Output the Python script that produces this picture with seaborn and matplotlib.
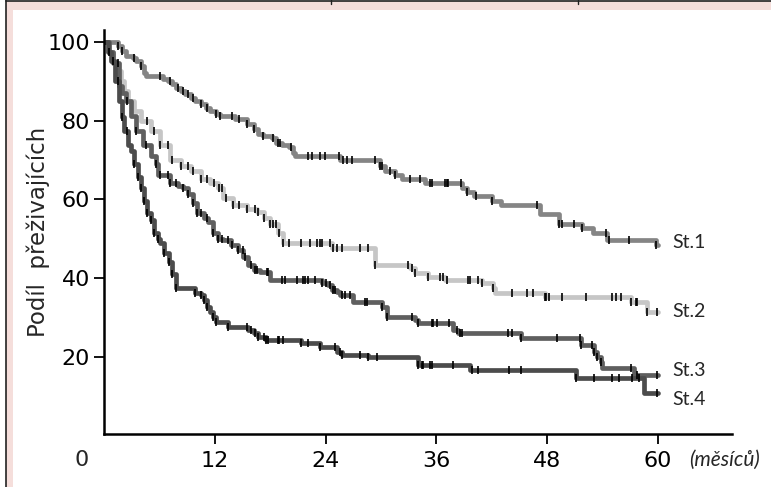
import numpy as np
import pandas as pd
import matplotlib
matplotlib.use("Agg")
import matplotlib.pyplot as plt
from matplotlib.patches import Rectangle
from matplotlib.lines import Line2D
import seaborn as sns

# ---------------- data ----------------
stages = ["St.1", "St.2", "St.3", "St.4"]

t1 = [0, 1.5, 2.0, 2.4, 3.1, 3.5, 4.0, 4.3, 4.5, 6.4, 6.9, 7.4, 7.8, 8.3, 8.8, 9.4, 9.9,
      10.5, 11.0, 11.5, 12.1, 12.6, 14.2, 15.5, 16.2, 16.7, 17.2, 18.2, 18.6, 19.3, 20.0,
      20.5, 20.7, 25.6, 29.9, 30.4, 31.5, 32.3, 34.8, 38.8, 39.3, 40.1, 42.0, 43.0, 47.2,
      49.3, 51.8, 52.9, 54.5, 59.8, 60.0]
s1 = [100, 99.0, 97.7, 96.5, 96.0, 95.2, 93.9, 92.2, 91.4, 90.6, 90.1, 89.4, 88.4, 87.6, 86.8,
      85.8, 85.1, 84.1, 83.3, 82.5, 81.8, 81.3, 80.5, 79.2, 78.0, 76.7, 76.2, 75.7, 74.4,
      73.7, 73.2, 71.9, 71.1, 69.9, 68.6, 67.3, 66.1, 65.3, 64.3, 63.0, 62.0, 61.0, 59.7,
      58.5, 56.3, 53.7, 52.7, 51.4, 49.6, 48.4, 48.4]

t2 = [0, 0.5, 1.0, 1.4, 1.8, 2.2, 2.6, 3.2, 4.0, 5.1, 6.1, 7.2, 8.3, 9.4, 10.5, 11.5, 12.3,
      12.9, 14.0, 15.5, 16.6, 17.3, 18.0, 18.8, 19.4, 24.7, 29.3, 33.1, 33.7, 35.1, 36.9,
      40.9, 42.1, 42.3, 47.7, 57.1, 58.8, 60.0]
s2 = [100, 97.5, 95, 92.5, 90, 87.5, 85, 82.5, 80, 77.5, 73.7, 69.9, 68.6, 67.3, 65.3, 64.3,
      62.8, 60.3, 58.5, 57.7, 56.7, 55.2, 53.9, 51.4, 48.9, 47.6, 43.3, 42.5, 41.3, 40.3,
      39.5, 38.7, 37.5, 36.2, 35.2, 33.9, 31.4, 31.4]

t3 = [0, 0.5, 1.0, 1.6, 2.0, 2.4, 2.9, 3.5, 4.2, 5.1, 5.6, 5.9, 7.2, 8.0, 8.5, 9.1, 9.6,
      10.1, 10.8, 11.3, 11.8, 12.3, 12.9, 13.7, 14.5, 15.1, 15.6, 16.2, 16.9, 18.0, 23.6,
      24.3, 24.7, 25.2, 25.6, 27.0, 30.1, 30.6, 33.7, 34.0, 37.8, 38.3, 45.2, 51.7, 53.1,
      53.4, 53.8, 53.9, 57.4, 60.0]
s3 = [100, 97.5, 94.7, 88.9, 87.0, 85.0, 81.3, 77.5, 73.7, 71.1, 69.1, 66.1, 64.3, 63.5, 63.0,
      61.5, 59.0, 56.5, 55.4, 54.2, 51.6, 50.1, 49.6, 48.4, 47.1, 45.3, 43.3, 42.0, 41.5,
      39.5, 38.7, 38.2, 37.0, 36.5, 35.7, 33.9, 32.7, 30.1, 29.4, 28.6, 26.8, 26.1, 24.8,
      23.0, 21.3, 20.0, 18.7, 17.2, 15.4, 15.4]

t4 = [0, 0.4, 0.8, 1.2, 1.6, 1.9, 2.2, 2.6, 2.9, 3.2, 3.7, 4.0, 4.3, 4.7, 5.1, 5.4, 5.9, 6.1,
      6.5, 7.0, 7.4, 7.8, 9.9, 10.5, 10.8, 11.2, 11.5, 11.8, 12.1, 13.4, 15.6, 16.2, 16.7,
      17.5, 21.3, 23.4, 25.2, 25.8, 28.6, 34.0, 39.6, 51.1, 58.5, 60.0]
s4 = [100, 97.5, 95.2, 90.0, 85.0, 81.0, 77.5, 73.7, 72.4, 69.1, 65.6, 63.0, 59.7, 56.5, 54.7,
      51.4, 50.1, 48.9, 46.3, 44.1, 41.0, 37.5, 36.2, 35.7, 34.4, 32.7, 31.4, 30.1, 28.9,
      27.6, 26.8, 26.1, 25.1, 24.3, 23.5, 22.5, 21.3, 20.5, 20.0, 18.0, 16.7, 14.7, 10.9,
      10.9]

# censoring marks (months)
c1 = [1.5, 2.0, 3.2, 4.0, 6.1, 7.2, 8.0, 8.5, 9.1, 9.6, 10.5, 11.2, 12.1, 12.6, 13.9, 14.6,
      15.5, 16.2, 17.2, 18.3, 18.8, 19.1, 20.2, 22.1, 22.5, 23.4, 23.9, 25.4, 25.9, 26.3,
      26.9, 29.3, 29.9, 30.1, 31.0, 31.5, 33.1, 34.2, 35.3, 35.5, 36.9, 37.1, 37.2, 38.7,
      39.3, 40.3, 42.0, 46.9, 49.3, 49.6, 50.9, 51.8, 54.4, 54.7, 56.9, 59.8]
c2 = [4.7, 5.4, 6.1, 6.9, 7.4, 8.3, 9.1, 9.6, 10.5, 11.2, 11.9, 12.4, 12.8, 13.2, 14.0, 14.6,
      15.5, 16.4, 16.7, 17.3, 18.0, 18.3, 18.6, 18.9, 19.4, 20.0, 21.3, 22.3, 23.1, 23.4,
      23.6, 24.5, 24.8, 25.2, 25.8, 27.7, 28.6, 29.3, 32.9, 33.3, 33.7, 35.1, 36.4, 36.7,
      37.1, 39.4, 39.6, 40.5, 40.9, 42.1, 44.2, 45.8, 46.4, 47.7, 47.9, 48.2, 49.6, 52.2,
      55.0, 55.4, 56.0, 57.1, 57.6, 57.7, 58.8, 59.9]
c3 = [1.5, 2.5, 3.5, 4.5, 5.6, 6.1, 6.9, 7.2, 7.8, 8.5, 9.1, 9.6, 10.1, 10.5, 11.2, 11.8, 12.3,
      12.8, 13.4, 13.9, 14.5, 15.0, 15.3, 15.9, 16.4, 16.6, 17.7, 17.8, 19.3, 19.6, 20.9,
      21.5, 21.8, 22.1, 22.9, 23.6, 24.0, 24.5, 24.8, 25.0, 25.8, 26.1, 26.6, 28.3, 28.5,
      30.1, 30.6, 33.4, 34.0, 35.5, 35.6, 36.1, 37.4, 38.2, 38.5, 38.8, 43.7, 44.2, 45.2,
      49.1, 51.5, 51.7, 52.8, 53.1, 53.4, 53.8, 57.1, 57.7, 59.9]
c4 = [0.5, 1.0, 1.5, 2.0, 2.5, 3.2, 3.7, 4.0, 4.3, 4.7, 5.1, 5.4, 5.9, 6.5, 7.0, 7.4, 7.8,
      9.9, 10.5, 10.8, 11.2, 11.8, 12.1, 13.4, 15.5, 15.9, 16.4, 16.7, 17.3, 17.5, 17.8,
      18.8, 18.9, 19.4, 21.3, 22.1, 23.4, 25.0, 25.6, 25.8, 27.7, 28.6, 29.6, 34.0, 34.4,
      34.5, 35.3, 35.5, 37.8, 39.8, 40.5, 43.9, 45.2, 51.1, 53.1, 55.0, 55.8, 57.2, 57.9,
      59.9]

x_ticks = [12, 24, 36, 48, 60]
y_ticks = [20, 40, 60, 80, 100]
y_label = "Podíl  přeživajících"
x_unit = "(měsíců)"

# ---------------- style ----------------
sns.set_style("ticks")
plt.rcParams["font.family"] = ["DejaVu Sans"]

colors = {"St.1": "#858585", "St.2": "#c6c6c6", "St.3": "#5f5f5f", "St.4": "#4c4c4c"}

W, H = 771, 487
fig = plt.figure(figsize=(W / 100, H / 100), dpi=100)

def fx(px):
    return px / W

def fy(py):
    return 1 - py / H

# page frame decoration (pink bands)
pink = "#f5dedb"
fig.add_artist(Rectangle((fx(6), fy(10)), fx(W) - fx(6), fy(1) - fy(10),
                         transform=fig.transFigure, facecolor=pink, edgecolor="none"))
fig.add_artist(Rectangle((fx(6), 0), fx(13) - fx(6), fy(10),
                         transform=fig.transFigure, facecolor=pink, edgecolor="none"))
fig.add_artist(Line2D([fx(5.5), fx(5.5)], [0, 1], transform=fig.transFigure,
                      color="#222222", lw=1.2))
fig.add_artist(Line2D([fx(5.5), 1], [fy(0.7), fy(0.7)], transform=fig.transFigure,
                      color="#222222", lw=1.2))
for xp in (331, 578):
    fig.add_artist(Line2D([fx(xp), fx(xp)], [fy(0), fy(4)], transform=fig.transFigure,
                          color="#222222", lw=1.0))

ax = fig.add_axes([fx(104), fy(434), fx(732) - fx(104), fy(30) - fy(434)])

times = [t1, t2, t3, t4]
survs = [s1, s2, s3, s4]
cens = [c1, c2, c3, c4]

frames = []
for st, t, s in zip(stages, times, survs):
    assert len(t) == len(s), st
    frames.append(pd.DataFrame({"t": t, "s": s, "stage": st}))
df = pd.concat(frames, ignore_index=True)

order = ["St.2", "St.1", "St.3", "St.4"]
for st in order:
    sub = df[df.stage == st]
    sns.lineplot(data=sub, x="t", y="s", color=colors[st], drawstyle="steps-post",
                 lw=3.4, estimator=None, sort=False, legend=False, ax=ax, zorder=2)
    i = stages.index(st)
    tt = np.asarray(times[i]); ss = np.asarray(survs[i])
    cc = np.asarray(cens[i])
    idx = np.searchsorted(tt, cc, side="right") - 1
    ax.plot(cc, ss[idx], ls="none", marker="|", ms=6, mew=1.2, color="black", zorder=3)

ax.set_xlim(0, 68)
ax.set_ylim(0.5, 103)
ax.set_xticks(x_ticks)
ax.set_yticks(y_ticks)
ax.set_xlabel("")
ax.set_ylabel("")
sns.despine(ax=ax)
for sp in ("left", "bottom"):
    ax.spines[sp].set_linewidth(1.8)
    ax.spines[sp].set_color("black")
ax.tick_params(axis="both", direction="out", length=7, width=1.3, colors="black",
               labelsize=16)
ax.tick_params(axis="x", pad=5)
ax.tick_params(axis="y", pad=3)

# origin label, axis titles
fig.text(fx(82), fy(460), "0", ha="center", va="center", fontsize=16)
fig.text(fx(38), fy(232), y_label, rotation=90, ha="center", va="center", fontsize=16.5)
fig.text(fx(689), fy(460), x_unit, ha="left", va="center", fontsize=15,
         style="italic", family=["Lato", "DejaVu Sans"])

label_y = {"St.1": 49.2, "St.2": 31.5, "St.3": 16.5, "St.4": 9.3}
for st in stages:
    ax.text(61.5, label_y[st], st, ha="left", va="center", fontsize=14,
            family=["Lato", "DejaVu Sans"], clip_on=False)

fig.savefig("out.png", dpi=100)
